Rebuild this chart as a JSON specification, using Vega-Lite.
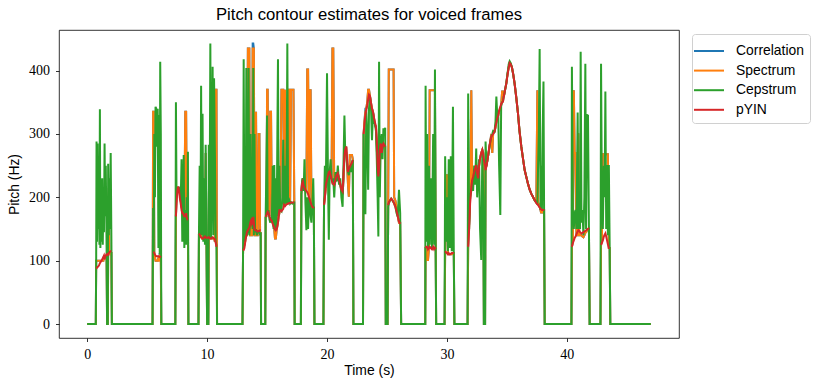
{
"$schema": "https://vega.github.io/schema/vega-lite/v6.json",
"width": 620, "height": 308,
"autosize": {"type": "none"},
"padding": {"left": 59, "top": 30, "right": 140, "bottom": 51},
"background": "white",
"title": {"text": "Pitch contour estimates for voiced frames", "font": "Liberation Sans", "fontSize": 16.7, "fontWeight": "normal", "color": "black", "offset": 6, "anchor": "middle"},
"data": {"values": [
{"t":0,"C":0,"S":0,"E":0,"P":null,"g":0},
{"t":0.72,"C":0,"S":0,"E":0,"P":null,"g":0},
{"t":0.75,"C":100,"S":100,"E":100,"P":88,"g":1},
{"t":0.78,"C":100,"S":100,"E":288,"P":88,"g":1},
{"t":0.82,"C":100,"S":100,"E":130,"P":89,"g":1},
{"t":0.87,"C":100,"S":100,"E":285,"P":90,"g":1},
{"t":0.92,"C":100,"S":100,"E":150,"P":91,"g":1},
{"t":0.97,"C":100,"S":100,"E":210,"P":92,"g":1},
{"t":1.02,"C":100,"S":100,"E":125,"P":94,"g":1},
{"t":1.06,"C":100,"S":100,"E":339,"P":96,"g":1},
{"t":1.10,"C":100,"S":100,"E":120,"P":97,"g":1},
{"t":1.15,"C":100,"S":100,"E":180,"P":99,"g":1},
{"t":1.20,"C":100,"S":100,"E":130,"P":100,"g":1},
{"t":1.25,"C":100,"S":100,"E":230,"P":102,"g":1},
{"t":1.30,"C":100,"S":100,"E":125,"P":104,"g":1},
{"t":1.35,"C":100,"S":100,"E":200,"P":106,"g":1},
{"t":1.40,"C":108,"S":105,"E":145,"P":108,"g":1},
{"t":1.45,"C":105,"S":105,"E":285,"P":102,"g":1},
{"t":1.50,"C":105,"S":105,"E":170,"P":106,"g":1},
{"t":1.55,"C":105,"S":105,"E":250,"P":108,"g":1},
{"t":1.62,"C":108,"S":108,"E":120,"P":110,"g":1},
{"t":1.66,"C":0,"S":0,"E":0,"P":110,"g":1},
{"t":1.72,"C":0,"S":0,"E":0,"P":109,"g":1},
{"t":1.75,"C":108,"S":108,"E":253,"P":110,"g":1},
{"t":1.80,"C":215,"S":215,"E":140,"P":112,"g":1},
{"t":1.85,"C":110,"S":110,"E":230,"P":113,"g":1},
{"t":1.90,"C":110,"S":110,"E":150,"P":114,"g":1},
{"t":1.96,"C":112,"S":112,"E":270,"P":115,"g":1},
{"t":2.02,"C":112,"S":112,"E":130,"P":115,"g":1},
{"t":2.06,"C":0,"S":0,"E":0,"P":null,"g":0},
{"t":5.45,"C":0,"S":0,"E":0,"P":null,"g":0},
{"t":5.50,"C":335,"S":335,"E":183,"P":113,"g":2},
{"t":5.55,"C":335,"S":335,"E":110,"P":113,"g":2},
{"t":5.60,"C":110,"S":110,"E":300,"P":112,"g":2},
{"t":5.65,"C":105,"S":105,"E":200,"P":110,"g":2},
{"t":5.70,"C":100,"S":100,"E":343,"P":108,"g":2},
{"t":5.76,"C":100,"S":100,"E":340,"P":107,"g":2},
{"t":5.82,"C":100,"S":100,"E":280,"P":107,"g":2},
{"t":5.88,"C":100,"S":100,"E":340,"P":107,"g":2},
{"t":5.94,"C":105,"S":105,"E":120,"P":107,"g":2},
{"t":6.00,"C":100,"S":100,"E":330,"P":106,"g":2},
{"t":6.05,"C":112,"S":100,"E":110,"P":106,"g":2},
{"t":6.09,"C":110,"S":110,"E":414,"P":106,"g":2},
{"t":6.14,"C":100,"S":100,"E":300,"P":105,"g":2},
{"t":6.18,"C":0,"S":0,"E":0,"P":null,"g":0},
{"t":7.35,"C":0,"S":0,"E":0,"P":null,"g":0},
{"t":7.40,"C":170,"S":170,"E":350,"P":170,"g":3},
{"t":7.45,"C":200,"S":200,"E":200,"P":190,"g":3},
{"t":7.52,"C":215,"S":215,"E":215,"P":210,"g":3},
{"t":7.58,"C":215,"S":215,"E":215,"P":217,"g":3},
{"t":7.65,"C":215,"S":215,"E":215,"P":212,"g":3},
{"t":7.72,"C":210,"S":210,"E":210,"P":200,"g":3},
{"t":7.80,"C":195,"S":195,"E":195,"P":190,"g":3},
{"t":7.87,"C":185,"S":185,"E":260,"P":180,"g":3},
{"t":7.93,"C":180,"S":180,"E":130,"P":175,"g":3},
{"t":8.00,"C":175,"S":175,"E":175,"P":175,"g":3},
{"t":8.05,"C":170,"S":170,"E":267,"P":172,"g":3},
{"t":8.10,"C":168,"S":168,"E":120,"P":170,"g":3},
{"t":8.18,"C":335,"S":335,"E":180,"P":170,"g":3},
{"t":8.25,"C":335,"S":335,"E":125,"P":175,"g":3},
{"t":8.30,"C":170,"S":170,"E":200,"P":168,"g":3},
{"t":8.36,"C":165,"S":165,"E":130,"P":165,"g":3},
{"t":8.40,"C":165,"S":165,"E":272,"P":165,"g":3},
{"t":8.44,"C":0,"S":0,"E":0,"P":null,"g":0},
{"t":9.28,"C":0,"S":0,"E":0,"P":null,"g":0},
{"t":9.32,"C":143,"S":143,"E":143,"P":143,"g":4},
{"t":9.38,"C":140,"S":140,"E":250,"P":141,"g":4},
{"t":9.45,"C":140,"S":140,"E":140,"P":138,"g":4},
{"t":9.50,"C":140,"S":140,"E":376,"P":137,"g":4},
{"t":9.56,"C":135,"S":135,"E":140,"P":136,"g":4},
{"t":9.62,"C":135,"S":135,"E":332,"P":135,"g":4},
{"t":9.68,"C":135,"S":135,"E":130,"P":135,"g":4},
{"t":9.75,"C":135,"S":135,"E":230,"P":136,"g":4},
{"t":9.82,"C":135,"S":135,"E":125,"P":138,"g":4},
{"t":9.88,"C":270,"S":270,"E":283,"P":137,"g":4},
{"t":9.95,"C":135,"S":135,"E":130,"P":136,"g":4},
{"t":10.00,"C":0,"S":0,"E":0,"P":136,"g":4},
{"t":10.10,"C":0,"S":0,"E":0,"P":136,"g":4},
{"t":10.14,"C":135,"S":135,"E":283,"P":137,"g":4},
{"t":10.20,"C":135,"S":135,"E":135,"P":136,"g":4},
{"t":10.27,"C":135,"S":135,"E":443,"P":135,"g":4},
{"t":10.33,"C":135,"S":135,"E":135,"P":135,"g":4},
{"t":10.40,"C":135,"S":135,"E":250,"P":136,"g":4},
{"t":10.46,"C":135,"S":135,"E":406,"P":137,"g":4},
{"t":10.52,"C":135,"S":135,"E":140,"P":136,"g":4},
{"t":10.58,"C":135,"S":135,"E":388,"P":135,"g":4},
{"t":10.65,"C":130,"S":130,"E":270,"P":134,"g":4},
{"t":10.72,"C":370,"S":370,"E":130,"P":128,"g":4},
{"t":10.78,"C":370,"S":370,"E":125,"P":122,"g":4},
{"t":10.83,"C":0,"S":0,"E":0,"P":null,"g":0},
{"t":12.95,"C":0,"S":0,"E":0,"P":null,"g":0},
{"t":13.00,"C":118,"S":118,"E":118,"P":116,"g":5},
{"t":13.05,"C":120,"S":120,"E":418,"P":117,"g":5},
{"t":13.11,"C":125,"S":125,"E":130,"P":120,"g":5},
{"t":13.17,"C":130,"S":130,"E":250,"P":128,"g":5},
{"t":13.22,"C":140,"S":140,"E":135,"P":135,"g":5},
{"t":13.27,"C":140,"S":140,"E":404,"P":140,"g":5},
{"t":13.32,"C":140,"S":140,"E":140,"P":145,"g":5},
{"t":13.40,"C":435,"S":435,"E":150,"P":148,"g":5},
{"t":13.46,"C":435,"S":435,"E":404,"P":150,"g":5},
{"t":13.52,"C":435,"S":435,"E":140,"P":152,"g":5},
{"t":13.58,"C":140,"S":140,"E":160,"P":158,"g":5},
{"t":13.63,"C":140,"S":140,"E":300,"P":162,"g":5},
{"t":13.68,"C":140,"S":140,"E":222,"P":164,"g":5},
{"t":13.74,"C":140,"S":140,"E":160,"P":158,"g":5},
{"t":13.80,"C":443,"S":435,"E":150,"P":160,"g":5},
{"t":13.85,"C":443,"S":435,"E":404,"P":169,"g":5},
{"t":13.90,"C":435,"S":435,"E":140,"P":160,"g":5},
{"t":13.95,"C":140,"S":140,"E":300,"P":150,"g":5},
{"t":14.00,"C":140,"S":140,"E":145,"P":148,"g":5},
{"t":14.08,"C":335,"S":335,"E":150,"P":148,"g":5},
{"t":14.14,"C":140,"S":140,"E":140,"P":147,"g":5},
{"t":14.22,"C":140,"S":140,"E":145,"P":146,"g":5},
{"t":14.30,"C":300,"S":300,"E":145,"P":147,"g":5},
{"t":14.36,"C":300,"S":300,"E":145,"P":147,"g":5},
{"t":14.42,"C":140,"S":140,"E":140,"P":148,"g":5},
{"t":14.47,"C":145,"S":145,"E":145,"P":148,"g":5},
{"t":14.50,"C":0,"S":0,"E":0,"P":null,"g":0},
{"t":14.85,"C":0,"S":0,"E":0,"P":null,"g":0},
{"t":14.88,"C":168,"S":168,"E":168,"P":169,"g":6},
{"t":14.95,"C":170,"S":170,"E":250,"P":172,"g":6},
{"t":15.00,"C":370,"S":370,"E":329,"P":175,"g":6},
{"t":15.05,"C":370,"S":370,"E":175,"P":177,"g":6},
{"t":15.12,"C":175,"S":175,"E":180,"P":175,"g":6},
{"t":15.20,"C":170,"S":170,"E":165,"P":170,"g":6},
{"t":15.27,"C":335,"S":335,"E":160,"P":166,"g":6},
{"t":15.33,"C":335,"S":335,"E":168,"P":164,"g":6},
{"t":15.40,"C":165,"S":165,"E":160,"P":163,"g":6},
{"t":15.47,"C":160,"S":160,"E":250,"P":158,"g":6},
{"t":15.54,"C":155,"S":155,"E":150,"P":155,"g":6},
{"t":15.60,"C":150,"S":150,"E":251,"P":152,"g":6},
{"t":15.66,"C":135,"S":135,"E":148,"P":150,"g":6},
{"t":15.73,"C":135,"S":135,"E":230,"P":148,"g":6},
{"t":15.80,"C":148,"S":148,"E":150,"P":150,"g":6},
{"t":15.86,"C":155,"S":155,"E":300,"P":155,"g":6},
{"t":15.91,"C":160,"S":160,"E":418,"P":160,"g":6},
{"t":15.97,"C":170,"S":170,"E":170,"P":172,"g":6},
{"t":16.03,"C":175,"S":175,"E":250,"P":180,"g":6},
{"t":16.10,"C":180,"S":180,"E":180,"P":180,"g":6},
{"t":16.20,"C":370,"S":370,"E":178,"P":178,"g":6},
{"t":16.28,"C":370,"S":370,"E":200,"P":180,"g":6},
{"t":16.35,"C":370,"S":370,"E":291,"P":182,"g":6},
{"t":16.42,"C":185,"S":185,"E":185,"P":188,"g":6},
{"t":16.50,"C":370,"S":370,"E":250,"P":186,"g":6},
{"t":16.58,"C":190,"S":190,"E":190,"P":188,"g":6},
{"t":16.65,"C":190,"S":190,"E":300,"P":189,"g":6},
{"t":16.69,"C":190,"S":190,"E":443,"P":190,"g":6},
{"t":16.75,"C":370,"S":370,"E":190,"P":190,"g":6},
{"t":16.85,"C":370,"S":370,"E":195,"P":191,"g":6},
{"t":16.92,"C":190,"S":190,"E":190,"P":191,"g":6},
{"t":17.00,"C":370,"S":370,"E":192,"P":192,"g":6},
{"t":17.10,"C":370,"S":370,"E":190,"P":192,"g":6},
{"t":17.20,"C":370,"S":370,"E":192,"P":192,"g":6},
{"t":17.27,"C":192,"S":192,"E":192,"P":192,"g":6},
{"t":17.30,"C":0,"S":0,"E":0,"P":null,"g":0},
{"t":17.82,"C":0,"S":0,"E":0,"P":null,"g":0},
{"t":17.86,"C":205,"S":205,"E":205,"P":210,"g":7},
{"t":17.92,"C":225,"S":225,"E":225,"P":222,"g":7},
{"t":17.98,"C":230,"S":230,"E":230,"P":225,"g":7},
{"t":18.05,"C":220,"S":220,"E":210,"P":218,"g":7},
{"t":18.12,"C":215,"S":215,"E":260,"P":215,"g":7},
{"t":18.20,"C":210,"S":210,"E":190,"P":212,"g":7},
{"t":18.28,"C":210,"S":210,"E":148,"P":210,"g":7},
{"t":18.35,"C":402,"S":402,"E":200,"P":208,"g":7},
{"t":18.42,"C":402,"S":402,"E":150,"P":205,"g":7},
{"t":18.50,"C":200,"S":200,"E":200,"P":200,"g":7},
{"t":18.57,"C":369,"S":369,"E":190,"P":196,"g":7},
{"t":18.63,"C":369,"S":369,"E":170,"P":192,"g":7},
{"t":18.70,"C":190,"S":190,"E":160,"P":188,"g":7},
{"t":18.77,"C":185,"S":185,"E":185,"P":185,"g":7},
{"t":18.85,"C":185,"S":185,"E":230,"P":184,"g":7},
{"t":18.90,"C":183,"S":183,"E":183,"P":183,"g":7},
{"t":18.95,"C":0,"S":0,"E":0,"P":null,"g":0},
{"t":19.70,"C":0,"S":0,"E":0,"P":null,"g":0},
{"t":19.75,"C":188,"S":188,"E":188,"P":188,"g":8},
{"t":19.82,"C":200,"S":200,"E":250,"P":200,"g":8},
{"t":19.90,"C":215,"S":215,"E":215,"P":220,"g":8},
{"t":20.00,"C":225,"S":225,"E":396,"P":228,"g":8},
{"t":20.08,"C":230,"S":230,"E":230,"P":235,"g":8},
{"t":20.15,"C":235,"S":235,"E":133,"P":240,"g":8},
{"t":20.22,"C":240,"S":240,"E":240,"P":241,"g":8},
{"t":20.30,"C":235,"S":235,"E":260,"P":235,"g":8},
{"t":20.38,"C":230,"S":230,"E":230,"P":228,"g":8},
{"t":20.45,"C":435,"S":435,"E":225,"P":222,"g":8},
{"t":20.52,"C":435,"S":435,"E":230,"P":222,"g":8},
{"t":20.60,"C":220,"S":220,"E":200,"P":220,"g":8},
{"t":20.70,"C":225,"S":225,"E":240,"P":228,"g":8},
{"t":20.80,"C":235,"S":235,"E":225,"P":235,"g":8},
{"t":20.90,"C":238,"S":238,"E":250,"P":238,"g":8},
{"t":21.00,"C":230,"S":230,"E":220,"P":228,"g":8},
{"t":21.10,"C":220,"S":220,"E":230,"P":222,"g":8},
{"t":21.20,"C":210,"S":210,"E":200,"P":212,"g":8},
{"t":21.30,"C":205,"S":205,"E":185,"P":209,"g":8},
{"t":21.38,"C":230,"S":230,"E":260,"P":240,"g":8},
{"t":21.45,"C":265,"S":265,"E":329,"P":265,"g":8},
{"t":21.52,"C":270,"S":270,"E":270,"P":275,"g":8},
{"t":21.60,"C":280,"S":280,"E":270,"P":280,"g":8},
{"t":21.68,"C":250,"S":250,"E":250,"P":258,"g":8},
{"t":21.75,"C":220,"S":220,"E":240,"P":240,"g":8},
{"t":21.82,"C":201,"S":201,"E":235,"P":245,"g":8},
{"t":21.90,"C":267,"S":267,"E":250,"P":248,"g":8},
{"t":22.00,"C":267,"S":267,"E":240,"P":252,"g":8},
{"t":22.08,"C":267,"S":267,"E":255,"P":255,"g":8},
{"t":22.15,"C":260,"S":260,"E":259,"P":259,"g":8},
{"t":22.20,"C":0,"S":0,"E":0,"P":null,"g":0},
{"t":23.00,"C":0,"S":0,"E":0,"P":null,"g":0},
{"t":23.05,"C":300,"S":300,"E":300,"P":300,"g":9},
{"t":23.12,"C":320,"S":320,"E":175,"P":315,"g":9},
{"t":23.20,"C":340,"S":335,"E":175,"P":330,"g":9},
{"t":23.27,"C":340,"S":340,"E":338,"P":338,"g":9},
{"t":23.35,"C":350,"S":350,"E":300,"P":345,"g":9},
{"t":23.43,"C":370,"S":370,"E":212,"P":355,"g":9},
{"t":23.50,"C":370,"S":370,"E":340,"P":362,"g":9},
{"t":23.58,"C":360,"S":360,"E":360,"P":360,"g":9},
{"t":23.66,"C":350,"S":350,"E":345,"P":350,"g":9},
{"t":23.75,"C":340,"S":340,"E":290,"P":340,"g":9},
{"t":23.83,"C":335,"S":335,"E":335,"P":335,"g":9},
{"t":23.92,"C":325,"S":325,"E":320,"P":325,"g":9},
{"t":24.00,"C":315,"S":315,"E":315,"P":318,"g":9},
{"t":24.08,"C":310,"S":310,"E":305,"P":312,"g":9},
{"t":24.15,"C":280,"S":280,"E":260,"P":290,"g":9},
{"t":24.22,"C":240,"S":240,"E":200,"P":250,"g":9},
{"t":24.28,"C":233,"S":233,"E":138,"P":233,"g":9},
{"t":24.34,"C":250,"S":250,"E":414,"P":245,"g":9},
{"t":24.40,"C":280,"S":280,"E":200,"P":275,"g":9},
{"t":24.48,"C":285,"S":285,"E":285,"P":285,"g":9},
{"t":24.56,"C":270,"S":270,"E":300,"P":270,"g":9},
{"t":24.63,"C":280,"S":280,"E":260,"P":282,"g":9},
{"t":24.70,"C":285,"S":285,"E":309,"P":285,"g":9},
{"t":24.78,"C":280,"S":280,"E":300,"P":282,"g":9},
{"t":24.85,"C":280,"S":280,"E":310,"P":280,"g":9},
{"t":24.90,"C":0,"S":0,"E":0,"P":null,"g":0},
{"t":25.05,"C":0,"S":0,"E":0,"P":null,"g":0},
{"t":25.10,"C":185,"S":185,"E":185,"P":188,"g":10},
{"t":25.15,"C":402,"S":402,"E":190,"P":192,"g":10},
{"t":25.25,"C":402,"S":402,"E":195,"P":195,"g":10},
{"t":25.35,"C":402,"S":402,"E":198,"P":198,"g":10},
{"t":25.45,"C":402,"S":402,"E":195,"P":196,"g":10},
{"t":25.55,"C":402,"S":402,"E":192,"P":192,"g":10},
{"t":25.60,"C":200,"S":200,"E":190,"P":190,"g":10},
{"t":25.70,"C":195,"S":195,"E":185,"P":185,"g":10},
{"t":25.80,"C":185,"S":185,"E":175,"P":178,"g":10},
{"t":25.90,"C":170,"S":170,"E":170,"P":170,"g":10},
{"t":26.00,"C":160,"S":160,"E":212,"P":162,"g":10},
{"t":26.10,"C":160,"S":160,"E":175,"P":158,"g":10},
{"t":26.18,"C":0,"S":0,"E":0,"P":null,"g":0},
{"t":28.19,"C":0,"S":0,"E":0,"P":null,"g":0},
{"t":28.22,"C":120,"S":120,"E":376,"P":120,"g":11},
{"t":28.28,"C":120,"S":120,"E":130,"P":122,"g":11},
{"t":28.35,"C":101,"S":101,"E":300,"P":122,"g":11},
{"t":28.42,"C":101,"S":101,"E":120,"P":118,"g":11},
{"t":28.50,"C":120,"S":120,"E":250,"P":120,"g":11},
{"t":28.56,"C":369,"S":369,"E":125,"P":122,"g":11},
{"t":28.65,"C":369,"S":369,"E":230,"P":120,"g":11},
{"t":28.75,"C":369,"S":369,"E":120,"P":118,"g":11},
{"t":28.85,"C":369,"S":369,"E":300,"P":122,"g":11},
{"t":28.93,"C":369,"S":369,"E":125,"P":118,"g":11},
{"t":29.00,"C":369,"S":369,"E":402,"P":120,"g":11},
{"t":29.06,"C":120,"S":120,"E":120,"P":118,"g":11},
{"t":29.10,"C":0,"S":0,"E":0,"P":null,"g":0},
{"t":29.80,"C":0,"S":0,"E":0,"P":null,"g":0},
{"t":29.85,"C":115,"S":115,"E":265,"P":115,"g":12},
{"t":29.92,"C":235,"S":235,"E":130,"P":113,"g":12},
{"t":30.00,"C":235,"S":235,"E":200,"P":112,"g":12},
{"t":30.08,"C":112,"S":112,"E":115,"P":110,"g":12},
{"t":30.15,"C":110,"S":110,"E":260,"P":112,"g":12},
{"t":30.25,"C":110,"S":110,"E":120,"P":110,"g":12},
{"t":30.32,"C":110,"S":110,"E":265,"P":111,"g":12},
{"t":30.40,"C":110,"S":110,"E":115,"P":112,"g":12},
{"t":30.50,"C":112,"S":112,"E":343,"P":112,"g":12},
{"t":30.57,"C":112,"S":112,"E":115,"P":112,"g":12},
{"t":30.62,"C":0,"S":0,"E":0,"P":null,"g":0},
{"t":31.72,"C":0,"S":0,"E":0,"P":null,"g":0},
{"t":31.77,"C":122,"S":122,"E":364,"P":122,"g":13},
{"t":31.85,"C":160,"S":160,"E":150,"P":150,"g":13},
{"t":31.93,"C":200,"S":200,"E":200,"P":190,"g":13},
{"t":32.03,"C":369,"S":369,"E":210,"P":215,"g":13},
{"t":32.10,"C":227,"S":227,"E":227,"P":227,"g":13},
{"t":32.18,"C":230,"S":230,"E":210,"P":232,"g":13},
{"t":32.27,"C":240,"S":240,"E":250,"P":240,"g":13},
{"t":32.35,"C":245,"S":245,"E":220,"P":246,"g":13},
{"t":32.44,"C":251,"S":251,"E":277,"P":251,"g":13},
{"t":32.52,"C":235,"S":235,"E":200,"P":238,"g":13},
{"t":32.60,"C":230,"S":230,"E":230,"P":230,"g":13},
{"t":32.68,"C":250,"S":250,"E":260,"P":250,"g":13},
{"t":32.76,"C":262,"S":262,"E":150,"P":262,"g":13},
{"t":32.86,"C":270,"S":270,"E":101,"P":270,"g":13},
{"t":32.95,"C":275,"S":275,"E":273,"P":275,"g":13},
{"t":33.03,"C":270,"S":270,"E":200,"P":268,"g":13},
{"t":33.08,"C":0,"S":0,"E":0,"P":260,"g":13},
{"t":33.18,"C":0,"S":0,"E":0,"P":250,"g":13},
{"t":33.22,"C":245,"S":245,"E":288,"P":243,"g":13},
{"t":33.30,"C":250,"S":250,"E":250,"P":250,"g":13},
{"t":33.42,"C":264,"S":264,"E":264,"P":264,"g":13},
{"t":33.55,"C":280,"S":280,"E":280,"P":282,"g":13},
{"t":33.70,"C":300,"S":300,"E":296,"P":296,"g":13},
{"t":33.78,"C":270,"S":270,"E":300,"P":298,"g":13},
{"t":33.85,"C":300,"S":300,"E":305,"P":300,"g":13},
{"t":33.97,"C":304,"S":304,"E":304,"P":304,"g":13},
{"t":34.05,"C":310,"S":310,"E":320,"P":312,"g":13},
{"t":34.12,"C":320,"S":320,"E":359,"P":318,"g":13},
{"t":34.20,"C":325,"S":325,"E":327,"P":325,"g":13},
{"t":34.28,"C":330,"S":330,"E":330,"P":330,"g":13},
{"t":34.35,"C":335,"S":335,"E":250,"P":337,"g":13},
{"t":34.45,"C":340,"S":340,"E":172,"P":343,"g":13},
{"t":34.52,"C":345,"S":345,"E":345,"P":347,"g":13},
{"t":34.60,"C":367,"S":367,"E":350,"P":350,"g":13},
{"t":34.67,"C":367,"S":367,"E":352,"P":351,"g":13},
{"t":34.75,"C":360,"S":360,"E":360,"P":360,"g":13},
{"t":34.85,"C":370,"S":370,"E":370,"P":370,"g":13},
{"t":34.95,"C":380,"S":380,"E":380,"P":380,"g":13},
{"t":35.05,"C":395,"S":395,"E":395,"P":393,"g":13},
{"t":35.15,"C":405,"S":405,"E":410,"P":405,"g":13},
{"t":35.23,"C":412,"S":412,"E":415,"P":412,"g":13},
{"t":35.32,"C":410,"S":410,"E":412,"P":410,"g":13},
{"t":35.42,"C":405,"S":405,"E":405,"P":405,"g":13},
{"t":35.52,"C":395,"S":395,"E":395,"P":395,"g":13},
{"t":35.64,"C":380,"S":380,"E":380,"P":380,"g":13},
{"t":35.78,"C":358,"S":358,"E":358,"P":358,"g":13},
{"t":35.92,"C":333,"S":333,"E":333,"P":333,"g":13},
{"t":36.05,"C":305,"S":305,"E":305,"P":305,"g":13},
{"t":36.20,"C":280,"S":280,"E":280,"P":280,"g":13},
{"t":36.35,"C":260,"S":260,"E":260,"P":260,"g":13},
{"t":36.48,"C":243,"S":243,"E":243,"P":243,"g":13},
{"t":36.62,"C":232,"S":232,"E":232,"P":232,"g":13},
{"t":36.75,"C":222,"S":222,"E":222,"P":222,"g":13},
{"t":36.90,"C":212,"S":212,"E":212,"P":212,"g":13},
{"t":37.05,"C":205,"S":205,"E":205,"P":205,"g":13},
{"t":37.17,"C":201,"S":201,"E":201,"P":201,"g":13},
{"t":37.30,"C":196,"S":196,"E":196,"P":196,"g":13},
{"t":37.45,"C":192,"S":192,"E":192,"P":191,"g":13},
{"t":37.54,"C":369,"S":369,"E":190,"P":189,"g":13},
{"t":37.60,"C":190,"S":190,"E":250,"P":188,"g":13},
{"t":37.66,"C":190,"S":190,"E":300,"P":186,"g":13},
{"t":37.73,"C":185,"S":185,"E":434,"P":184,"g":13},
{"t":37.80,"C":180,"S":180,"E":180,"P":182,"g":13},
{"t":37.86,"C":175,"S":175,"E":250,"P":181,"g":13},
{"t":37.92,"C":180,"S":180,"E":180,"P":180,"g":13},
{"t":37.98,"C":175,"S":175,"E":300,"P":180,"g":13},
{"t":38.05,"C":180,"S":180,"E":383,"P":180,"g":13},
{"t":38.10,"C":180,"S":180,"E":180,"P":179,"g":13},
{"t":38.15,"C":0,"S":0,"E":0,"P":null,"g":0},
{"t":40.38,"C":0,"S":0,"E":0,"P":null,"g":0},
{"t":40.42,"C":122,"S":122,"E":406,"P":122,"g":14},
{"t":40.50,"C":130,"S":130,"E":180,"P":128,"g":14},
{"t":40.58,"C":369,"S":369,"E":150,"P":132,"g":14},
{"t":40.65,"C":270,"S":270,"E":175,"P":136,"g":14},
{"t":40.72,"C":270,"S":270,"E":180,"P":138,"g":14},
{"t":40.80,"C":140,"S":140,"E":150,"P":142,"g":14},
{"t":40.90,"C":140,"S":140,"E":334,"P":146,"g":14},
{"t":40.96,"C":301,"S":301,"E":150,"P":148,"g":14},
{"t":41.03,"C":140,"S":140,"E":200,"P":147,"g":14},
{"t":41.10,"C":140,"S":140,"E":150,"P":145,"g":14},
{"t":41.15,"C":140,"S":140,"E":430,"P":144,"g":14},
{"t":41.22,"C":140,"S":140,"E":160,"P":143,"g":14},
{"t":41.30,"C":138,"S":138,"E":180,"P":144,"g":14},
{"t":41.38,"C":137,"S":137,"E":140,"P":145,"g":14},
{"t":41.46,"C":140,"S":140,"E":200,"P":146,"g":14},
{"t":41.54,"C":145,"S":145,"E":411,"P":147,"g":14},
{"t":41.60,"C":145,"S":145,"E":150,"P":148,"g":14},
{"t":41.68,"C":148,"S":148,"E":330,"P":149,"g":14},
{"t":41.76,"C":150,"S":150,"E":329,"P":150,"g":14},
{"t":41.84,"C":150,"S":150,"E":150,"P":152,"g":14},
{"t":41.90,"C":0,"S":0,"E":0,"P":null,"g":0},
{"t":42.80,"C":0,"S":0,"E":0,"P":null,"g":0},
{"t":42.85,"C":125,"S":125,"E":411,"P":125,"g":15},
{"t":42.92,"C":130,"S":130,"E":200,"P":128,"g":15},
{"t":43.00,"C":268,"S":268,"E":150,"P":132,"g":15},
{"t":43.08,"C":268,"S":268,"E":250,"P":138,"g":15},
{"t":43.15,"C":268,"S":268,"E":200,"P":141,"g":15},
{"t":43.21,"C":268,"S":268,"E":367,"P":143,"g":15},
{"t":43.28,"C":268,"S":268,"E":150,"P":138,"g":15},
{"t":43.35,"C":268,"S":268,"E":251,"P":132,"g":15},
{"t":43.42,"C":268,"S":268,"E":140,"P":126,"g":15},
{"t":43.50,"C":120,"S":120,"E":251,"P":120,"g":15},
{"t":43.57,"C":120,"S":120,"E":120,"P":120,"g":15},
{"t":43.62,"C":0,"S":0,"E":0,"P":null,"g":0},
{"t":47.00,"C":0,"S":0,"E":0,"P":null,"g":0}
]},
"encoding": {
  "x": {"field": "t", "type": "quantitative", "scale": {"domain": [-2.35, 49.35], "nice": false, "zero": false}, "axis": {"title": "Time (s)", "values": [0, 10, 20, 30, 40], "format": "d"}}
},
"layer": [
  {"mark": {"type": "line", "strokeWidth": 2},
   "encoding": {
     "y": {"field": "C", "type": "quantitative", "scale": {"domain": [-22.1, 464.2], "nice": false, "zero": false}, "axis": {"title": "Pitch (Hz)", "values": [0, 100, 200, 300, 400]}},
     "color": {"datum": "Correlation", "type": "nominal", "scale": {"domain": ["Correlation", "Spectrum", "Cepstrum", "pYIN"], "range": ["#1f77b4", "#ff7f0e", "#2ca02c", "#d62728"]}, "legend": {"title": null}}
   }},
  {"mark": {"type": "line", "strokeWidth": 2},
   "encoding": {
     "y": {"field": "S", "type": "quantitative", "scale": {"domain": [-22.1, 464.2], "nice": false, "zero": false}, "axis": {"title": "Pitch (Hz)", "values": [0, 100, 200, 300, 400]}},
     "color": {"datum": "Spectrum", "type": "nominal", "legend": {"title": null}}
   }},
  {"mark": {"type": "line", "strokeWidth": 2},
   "encoding": {
     "y": {"field": "E", "type": "quantitative", "scale": {"domain": [-22.1, 464.2], "nice": false, "zero": false}, "axis": {"title": "Pitch (Hz)", "values": [0, 100, 200, 300, 400]}},
     "color": {"datum": "Cepstrum", "type": "nominal", "legend": {"title": null}}
   }},
  {"transform": [{"filter": "isValid(datum.P)"}],
   "mark": {"type": "line", "strokeWidth": 2},
   "encoding": {
     "y": {"field": "P", "type": "quantitative", "scale": {"domain": [-22.1, 464.2], "nice": false, "zero": false}, "axis": {"title": "Pitch (Hz)", "values": [0, 100, 200, 300, 400]}},
     "detail": {"field": "g", "type": "nominal"},
     "color": {"datum": "pYIN", "type": "nominal", "legend": {"title": null}}
   }}
],
"config": {
  "view": {"stroke": "black", "strokeWidth": 0.8},
  "axis": {"domain": false, "grid": false, "ticks": true, "tickColor": "black", "tickSize": 3.5, "tickWidth": 0.8,
           "labelFont": "Liberation Serif", "labelFontSize": 14, "labelColor": "black",
           "titleFont": "Liberation Sans", "titleFontSize": 13.9, "titleFontWeight": "normal", "titleColor": "black"},
  "axisX": {"labelPadding": 5.5, "titlePadding": 2},
  "axisY": {"labelPadding": 6, "titlePadding": 7},
  "legend": {"orient": "none", "legendX": 633, "legendY": 4, "strokeColor": "#d0d0d0", "fillColor": "white", "cornerRadius": 3, "padding": 6,
             "symbolType": "M-1.5,0H1.5", "symbolSize": 400, "symbolStrokeWidth": 2, "symbolFillColor": "transparent", "labelFont": "Liberation Sans", "labelFontSize": 13.9,
             "labelColor": "black", "labelOffset": 16, "rowPadding": 1.6, "labelLimit": 0}
}
}
